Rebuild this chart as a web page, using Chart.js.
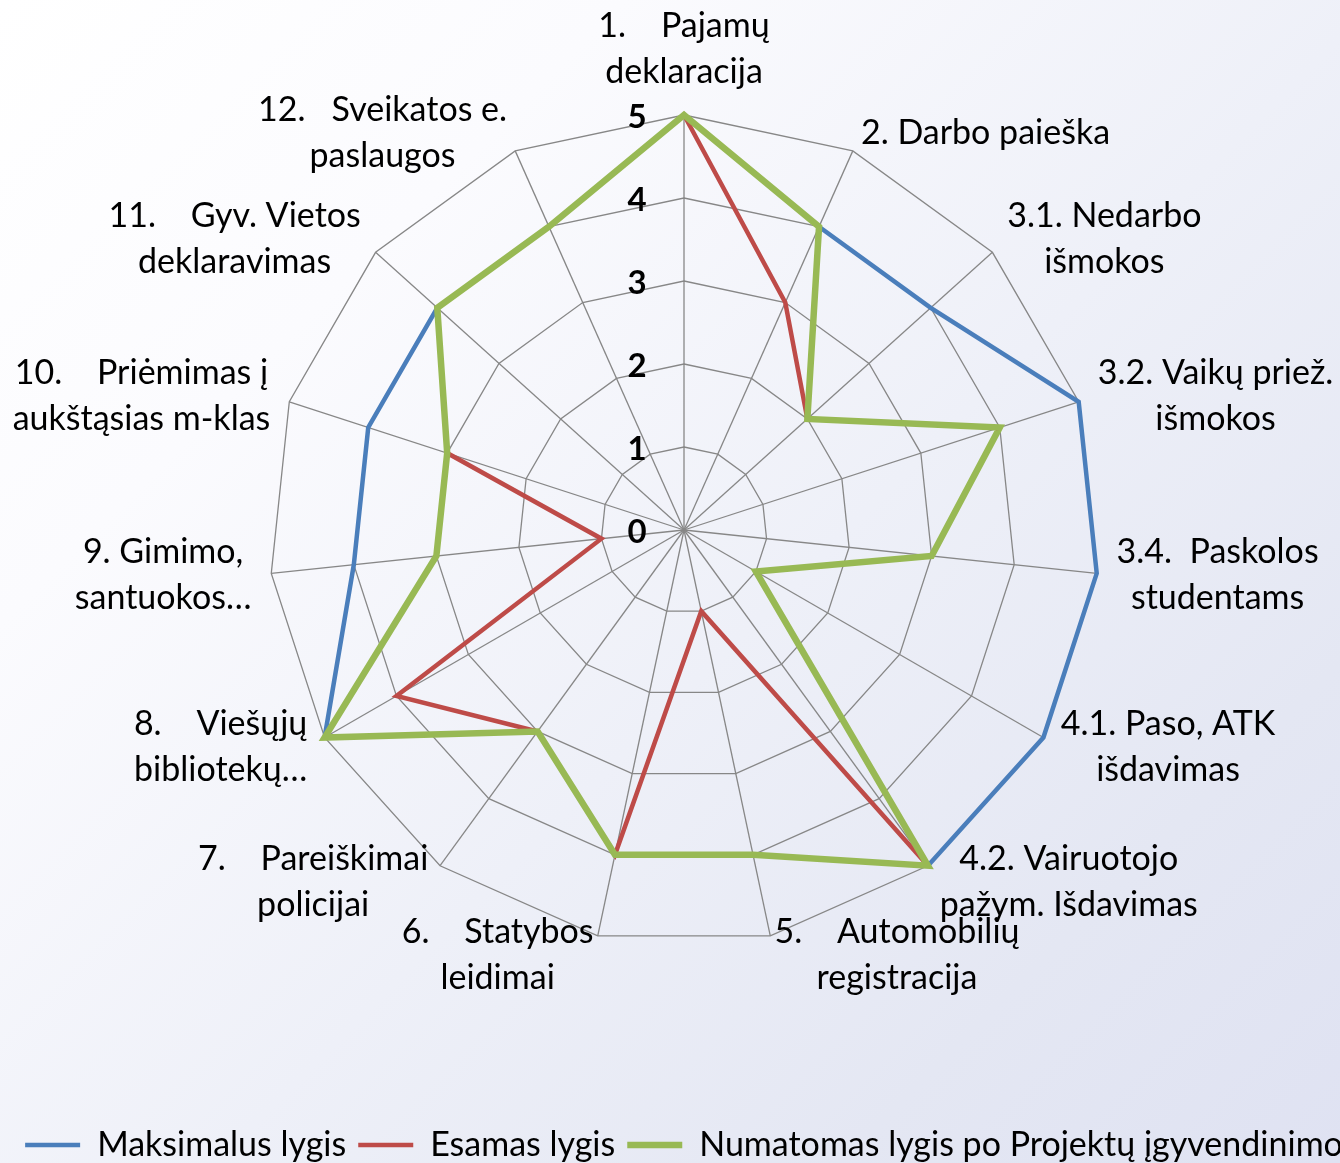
<!DOCTYPE html>
<html>
<head>
<meta charset="utf-8">
<script src="https://cdn.jsdelivr.net/npm/chart.js@4.4.1/dist/chart.umd.min.js"></script>
<style>
  html, body { margin: 0; padding: 0; overflow: hidden; }
  body {
    width: 1340px; height: 1163px;
    background: linear-gradient(135deg, #ffffff 0%, #fbfbfe 25%, #eef0f8 55%, #e4e7f3 80%, #dfe2f2 100%);
    position: relative;
  }
  #wrap { position: absolute; left: -26px; top: 0; width: 1420px; height: 1172px; }
</style>
</head>
<body>
<div id="wrap"><canvas id="myChart"></canvas></div>
<script>
const categories = [
  ['1.    Pajamų', 'deklaracija'],
  ['2. Darbo paieška'],
  ['3.1. Nedarbo', 'išmokos'],
  ['3.2. Vaikų priež.', 'išmokos'],
  ['3.4.  Paskolos', 'studentams'],
  ['4.1. Paso, ATK', 'išdavimas'],
  ['4.2. Vairuotojo', 'pažym. Išdavimas'],
  ['5.    Automobilių', 'registracija'],
  ['6.    Statybos', 'leidimai'],
  ['7.    Pareiškimai', 'policijai'],
  ['8.    Viešųjų', 'bibliotekų…'],
  ['9. Gimimo,', 'santuokos…'],
  ['10.    Priėmimas į', 'aukštąsias m-klas'],
  ['11.    Gyv. Vietos', 'deklaravimas'],
  ['12.   Sveikatos e.', 'paslaugos']
];

const maksimalus = [5, 4, 4, 5, 5, 5, 5, 4, 4, 3, 5, 4, 4, 4, 4];
const esamas     = [5, 3, 2, 4, 3, 1, 5, 1, 4, 3, 4, 1, 3, 4, 4];
const numatomas  = [5, 4, 2, 4, 3, 1, 5, 4, 4, 3, 5, 3, 3, 4, 4];

const tickValues = [0, 1, 2, 3, 4, 5];

const FONT = 'Lato';
const LABEL_SIZE = 34;
const LABEL_LINE = 46;

// tick labels left of the vertical axis (Chart.js skips the 0)
const tickLabelPlugin = {
  id: 'tickLabels',
  afterDatasetsDraw(chart) {
    const scale = chart.scales.r;
    const ctx = chart.ctx;
    ctx.save();
    ctx.font = 'bold 33px ' + FONT;
    ctx.fillStyle = '#000';
    ctx.textAlign = 'center';
    ctx.textBaseline = 'middle';
    tickValues.forEach(v => {
      const r = scale.getDistanceFromCenterForValue(v);
      ctx.fillText(String(v), scale.xCenter - 47, scale.yCenter - r + 2);
    });
    ctx.restore();
  }
};

// category labels, lines centred in their block like in Excel
const pointLabelPlugin = {
  id: 'centeredPointLabels',
  afterDatasetsDraw(chart) {
    const scale = chart.scales.r;
    const ctx = chart.ctx;
    ctx.save();
    ctx.font = LABEL_SIZE + 'px ' + FONT;
    ctx.fillStyle = '#000';
    ctx.textAlign = 'center';
    ctx.textBaseline = 'middle';
    categories.forEach((lines, i) => {
      const p = scale.getPointPosition(i, scale.drawingArea + 20);
      const deg = Math.round(scale.getIndexAngle(i) * 180 / Math.PI) % 360;
      const w = Math.max(...lines.map(l => ctx.measureText(l).width));
      const h = lines.length * LABEL_LINE;
      let cx = p.x, cy = p.y;
      if (deg === 0) cy = p.y - h / 2;
      else if (deg === 180) cy = p.y + h / 2;
      else if (deg < 180) cx = p.x + w / 2;
      else cx = p.x - w / 2;
      lines.forEach((l, k) => {
        ctx.fillText(l, cx, cy - h / 2 + LABEL_LINE * (k + 0.5));
      });
    });
    ctx.restore();
  }
};

const ctx = document.getElementById('myChart');

let myChart = new Chart(ctx, {
  type: 'radar',
  data: {
    labels: categories,
    datasets: [{
      label: 'Maksimalus lygis',
      data: maksimalus,
      borderColor: '#4a7ebb',
      borderWidth: 4.5,
      borderCapStyle: 'round',
      order: 2
    }, {
      label: 'Esamas lygis',
      data: esamas,
      borderColor: '#be4b48',
      borderWidth: 4.5,
      borderCapStyle: 'round',
      order: 1
    }, {
      label: 'Numatomas lygis po Projektų įgyvendinimo',
      data: numatomas,
      borderColor: '#98b954',
      borderWidth: 6.5,
      borderCapStyle: 'round',
      order: 0
    }]
  },
  options: {
    responsive: true,
    maintainAspectRatio: false,
    animation: false,
    events: [],
    elements: {
      point: { radius: 0 },
      line: { fill: false, tension: 0, borderJoinStyle: 'miter' }
    },
    layout: { padding: { top: 115 } },
    scales: {
      r: {
        min: 0,
        max: 5,
        beginAtZero: true,
        ticks: { stepSize: 1, display: false },
        grid: { color: '#878787', lineWidth: 1.3 },
        angleLines: { color: '#878787', lineWidth: 1.3 },
        pointLabels: { display: false }
      }
    },
    plugins: {
      tooltip: { enabled: false },
      legend: {
        position: 'bottom',
        title: { display: true, text: ' ', padding: { top: 0, bottom: 155 } },
        labels: {
          color: '#000',
          font: { family: FONT, size: 34 },
          usePointStyle: true,
          pointStyle: 'line',
          pointStyleWidth: 55,
          padding: 12,
          sort: (a, b) => a.datasetIndex - b.datasetIndex
        }
      }
    }
  },
  plugins: [tickLabelPlugin, pointLabelPlugin]
});
</script>
</body>
</html>
